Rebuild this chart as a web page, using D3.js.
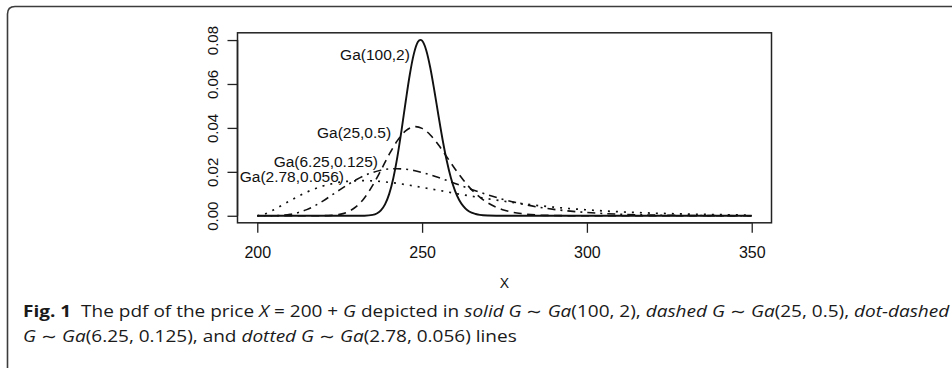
<!DOCTYPE html>
<html>
<head>
<meta charset="utf-8">
<script src="https://cdn.jsdelivr.net/npm/d3@7/dist/d3.min.js"></script>
<style>
  html, body { margin: 0; padding: 0; background: #fff; }
  svg { display: block; }
  .caption text { white-space: pre; }
</style>
</head>
<body>
<div id="chart"></div>
<script>
// values: price X = 200 + G, density of X
const ga100X = [200, 225, 230, 232.5, 235, 236.25, 237.5, 238.75, 240, 241.25, 242.5, 243.75, 245, 246.25,
  247.5, 248.75, 249.5, 250, 251.25, 252.5, 253.75, 255, 256.25, 257.5, 258.75, 260, 261.25, 262.5,
  263.75, 265, 266.25, 267.5, 270, 272.5, 275, 350];
const ga100Y = [0, 0, 0.000002, 0.00004, 0.00039, 0.00104, 0.00245, 0.00518, 0.00984, 0.0170, 0.0268, 0.0388,
  0.0518, 0.0641, 0.0737, 0.0792, 0.0801, 0.0797, 0.0754, 0.0673, 0.0567, 0.0453, 0.0344, 0.0249, 0.0172,
  0.0113, 0.0072, 0.0044, 0.0025, 0.0014, 0.0008, 0.0004, 0.0001, 0.00002, 0, 0];

const ga25X = [200, 210, 215, 220, 222.5, 225, 227.5, 230, 232.5, 235, 237.5, 240, 242.5, 245, 247.5, 248,
  250, 252.5, 255, 257.5, 260, 262.5, 265, 267.5, 270, 272.5, 275, 277.5, 280, 285, 290, 295, 300, 350];
const ga25Y = [0, 0, 0, 0.00004, 0.00018, 0.00064, 0.0018, 0.00415, 0.0081, 0.0138, 0.0207, 0.0279, 0.0342,
  0.0386, 0.0405, 0.0406, 0.0398, 0.0368, 0.0322, 0.0268, 0.0213, 0.0163, 0.0119, 0.0085, 0.0058, 0.0039,
  0.0025, 0.0016, 0.0010, 0.00034, 0.00011, 0.00003, 0.00001, 0];

const ga625X = [200, 202.5, 205, 207.5, 210, 212.5, 215, 217.5, 220, 222.5, 225, 227.5, 230, 232.5, 235,
  237.5, 240, 242.5, 245, 247.5, 250, 252.5, 255, 257.5, 260, 265, 270, 275, 280, 285, 290, 295, 300,
  310, 320, 330, 340, 350];
const ga625Y = [0, 0.000001, 0.00003, 0.00019, 0.00063, 0.0015, 0.0028, 0.0046, 0.0068, 0.0093, 0.0118,
  0.0142, 0.0164, 0.0183, 0.0197, 0.0207, 0.0213, 0.0214, 0.0212, 0.0206, 0.0197, 0.0186, 0.0174, 0.0161,
  0.0147, 0.0120, 0.0095, 0.0073, 0.0055, 0.0040, 0.0029, 0.0021, 0.0015, 0.0007, 0.0003, 0.00014,
  0.00006, 0.00002];

const ga278X = [200, 202.5, 205, 207.5, 210, 212.5, 215, 217.5, 220, 222.5, 225, 227.5, 230, 232.5, 235,
  237.5, 240, 245, 250, 255, 260, 265, 270, 275, 280, 290, 300, 310, 320, 330, 340, 350];
const ga278Y = [0, 0.0009, 0.0027, 0.0048, 0.0069, 0.0089, 0.0108, 0.0123, 0.0136, 0.0145, 0.0153, 0.0157,
  0.0159, 0.0160, 0.0159, 0.0156, 0.0152, 0.0142, 0.0129, 0.0116, 0.0102, 0.0089, 0.0077, 0.0066, 0.0056,
  0.0039, 0.0027, 0.0018, 0.0012, 0.0008, 0.0005, 0.0003];

const seriesNames = ['Ga(100,2)', 'Ga(25,0.5)', 'Ga(6.25,0.125)', 'Ga(2.78,0.056)'];
const labelAtX = [246.3, 240.6, 236.6, 226.3];
const labelAtY = [0.0732, 0.0377, 0.0245, 0.0177];

const xTicks = [200, 250, 300, 350];
const yTicks = [0, 0.02, 0.04, 0.06, 0.08];
const xTitle = 'X';

const width = 952;
const height = 368;
const plot = { left: 237.5, right: 771.5, top: 32.8, bottom: 222.8 };

const svg = d3.select('#chart')
    .append('svg')
    .attr('width', width)
    .attr('height', height);

// frame of the figure panel
svg.append('path')
    .attr('d', 'M7.5,368 V14 Q7.5,6.5 15,6.5 H952')
    .attr('fill', 'none')
    .attr('stroke', '#3c3c3c')
    .attr('stroke-width', 1.6);

// R style 4% padding round the data range
const x = d3.scaleLinear().domain([194, 356]).range([plot.left, plot.right]);
const y = d3.scaleLinear().domain([-0.0032, 0.0833]).range([plot.bottom, plot.top]);

const series = [
  { xs: ga100X, ys: ga100Y, dash: null, w: 1.9 },
  { xs: ga25X, ys: ga25Y, dash: '8,5.5', w: 1.6 },
  { xs: ga625X, ys: ga625Y, dash: '2,5,8,5', w: 1.6 },
  { xs: ga278X, ys: ga278Y, dash: '2,6', w: 1.7 }
];

const line = d3.line()
    .x(d => x(d[0]))
    .y(d => y(d[1]))
    .curve(d3.curveMonotoneX);

const g = svg.append('g');

series.forEach(s => {
  g.append('path')
      .datum(d3.zip(s.xs, s.ys))
      .attr('d', line)
      .attr('fill', 'none')
      .attr('stroke', '#111')
      .attr('stroke-width', s.w)
      .attr('stroke-dasharray', s.dash)
      .attr('stroke-linejoin', 'round');
});

// box
svg.append('rect')
    .attr('x', plot.left)
    .attr('y', plot.top)
    .attr('width', plot.right - plot.left)
    .attr('height', plot.bottom - plot.top)
    .attr('fill', 'none')
    .attr('stroke', '#222')
    .attr('stroke-width', 1.5);

// axes
const xAxis = svg.append('g')
    .attr('transform', 'translate(0,' + plot.bottom + ')')
    .call(d3.axisBottom(x).tickValues(xTicks).tickSize(10).tickSizeOuter(0).tickFormat(d3.format('d')));
xAxis.select('.domain')
    .attr('d', 'M' + x(xTicks[0]) + ',0H' + x(xTicks[xTicks.length - 1]));
xAxis.selectAll('text')
    .attr('y', 35)
    .attr('dy', null)
    .attr('fill', '#111')
    .style('font', '16px "Liberation Sans", Arial, sans-serif');

const yAxis = svg.append('g')
    .attr('transform', 'translate(' + plot.left + ',0)')
    .call(d3.axisLeft(y).tickValues(yTicks).tickSize(10).tickSizeOuter(0).tickFormat(d3.format('.2f')));
yAxis.select('.domain')
    .attr('d', 'M0,' + y(yTicks[0]) + 'V' + y(yTicks[yTicks.length - 1]));
yAxis.selectAll('text')
    .attr('transform', 'rotate(-90)')
    .attr('x', 0)
    .attr('y', -20)
    .attr('dy', null)
    .attr('text-anchor', 'middle')
    .attr('fill', '#111')
    .style('font', '15px "Liberation Sans", Arial, sans-serif');

svg.selectAll('.tick line').attr('stroke', '#222').attr('stroke-width', 1.3);
svg.selectAll('.domain').attr('stroke', '#222').attr('stroke-width', 1.5);

svg.append('text')
    .attr('x', (plot.left + plot.right) / 2)
    .attr('y', 288)
    .attr('text-anchor', 'middle')
    .attr('fill', '#111')
    .style('font', '14px "Liberation Sans", Arial, sans-serif')
    .text(xTitle);

// curve labels
seriesNames.forEach((name, i) => {
  svg.append('text')
      .attr('x', x(labelAtX[i]))
      .attr('y', y(labelAtY[i]))
      .attr('dy', '0.35em')
      .attr('text-anchor', 'end')
      .attr('fill', '#111')
      .style('font', '15.5px "Liberation Sans", Arial, sans-serif')
      .text(name);
});

// caption
const cap = svg.append('g').attr('class', 'caption');
const capFont = '16px "Open Sans", "Noto Sans", sans-serif';

function addLine(yPos, parts) {
  const t = cap.append('text')
      .attr('x', 0)
      .attr('y', yPos)
      .attr('fill', '#1a1a1a')
      .style('font', capFont);
  parts.forEach(p => {
    t.append('tspan')
        .style('font-style', p.i ? 'italic' : 'normal')
        .style('font-weight', p.b ? 'bold' : 'normal')
        .text(p.t);
  });
  return t;
}

const line1 = addLine(0, [
  { t: 'Fig. 1', b: true },
  { t: '  The pdf of the price ' },
  { t: 'X', i: true },
  { t: ' = 200 + ' },
  { t: 'G', i: true },
  { t: ' depicted in ' },
  { t: 'solid G', i: true },
  { t: ' \u223C ' },
  { t: 'Ga', i: true },
  { t: '(100, 2), ' },
  { t: 'dashed G', i: true },
  { t: ' \u223C ' },
  { t: 'Ga', i: true },
  { t: '(25, 0.5), ' },
  { t: 'dot-dashed', i: true }
]);

addLine(25, [
  { t: 'G', i: true },
  { t: ' \u223C ' },
  { t: 'Ga', i: true },
  { t: '(6.25, 0.125), and ' },
  { t: 'dotted G', i: true },
  { t: ' \u223C ' },
  { t: 'Ga', i: true },
  { t: '(2.78, 0.056) lines' }
]);

// squeeze the caption to the width it takes in the figure
const w1 = line1.node().getComputedTextLength();
const sx = 925 / w1;
cap.attr('transform', 'translate(23,317) scale(' + sx + ',1)');
</script>
</body>
</html>
